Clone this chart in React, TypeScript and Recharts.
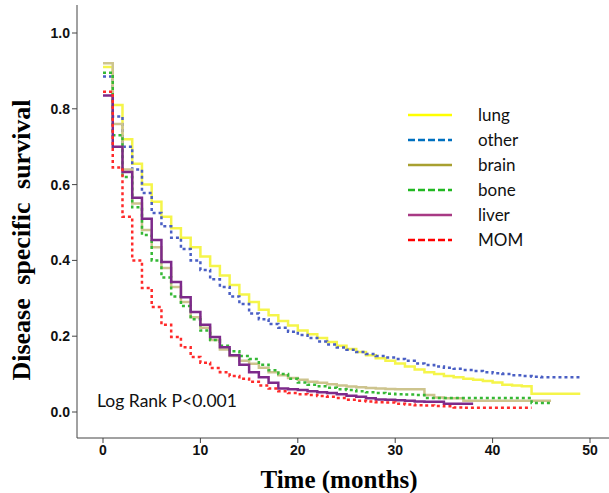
import React from 'react';
import { LineChart, Line, XAxis, YAxis } from 'recharts';

// ── Disease specific survival by metastatic site (Kaplan-Meier, monthly steps)

const MONTHS = [0, 1, 2, 3, 4, 5, 6, 7, 8, 9, 10, 11, 12, 13, 14, 15, 16, 17, 18, 19, 20, 21, 22, 23, 24, 25, 26, 27, 28, 29, 30, 31, 32, 33, 34, 35, 36, 37, 38, 39, 40, 41, 42, 43, 44, 45, 46, 47, 48, 49];

const LUNG = [0.91, 0.81, 0.72, 0.655, 0.60, 0.555, 0.515, 0.485, 0.46, 0.435, 0.41, 0.385, 0.36, 0.335, 0.31, 0.29, 0.27, 0.255, 0.24, 0.228,
  0.215, 0.205, 0.195, 0.185, 0.175, 0.166, 0.158, 0.15, 0.142, 0.135, 0.128, 0.12, 0.112, 0.105, 0.10, 0.095, 0.092, 0.088, 0.085, 0.082,
  0.078, 0.072, 0.07, 0.068, 0.048, 0.048, 0.048, 0.048, 0.048, 0.048];
const OTHER = [0.885, 0.78, 0.70, 0.64, 0.578, 0.525, 0.49, 0.46, 0.43, 0.40, 0.375, 0.35, 0.33, 0.305, 0.285, 0.26, 0.245, 0.232, 0.222, 0.212,
  0.203, 0.195, 0.186, 0.178, 0.17, 0.164, 0.158, 0.153, 0.148, 0.144, 0.14, 0.135, 0.128, 0.124, 0.12, 0.117, 0.114, 0.111, 0.108, 0.105,
  0.102, 0.10, 0.097, 0.095, 0.093, 0.092, 0.092, 0.092, 0.092, 0.092];
const BRAIN = [0.92, 0.76, 0.64, 0.55, 0.48, 0.435, 0.38, 0.33, 0.29, 0.25, 0.222, 0.19, 0.165, 0.148, 0.135, 0.127, 0.117, 0.105, 0.097, 0.09,
  0.085, 0.08, 0.077, 0.073, 0.07, 0.067, 0.065, 0.063, 0.062, 0.061, 0.06, 0.06, 0.06, 0.045, 0.038, 0.036, 0.036, 0.03, 0.03, 0.03,
  0.03, 0.03, 0.03, 0.03, 0.03, 0.03, 0.03];
const BONE = [0.895, 0.73, 0.62, 0.54, 0.467, 0.40, 0.355, 0.305, 0.28, 0.245, 0.215, 0.19, 0.175, 0.16, 0.148, 0.14, 0.125, 0.11, 0.10, 0.088,
  0.078, 0.072, 0.068, 0.064, 0.06, 0.058, 0.055, 0.052, 0.05, 0.048, 0.047, 0.046, 0.045, 0.037, 0.037, 0.037, 0.037, 0.037, 0.037, 0.037,
  0.037, 0.037, 0.037, 0.037, 0.024, 0.024, 0.024];
const LIVER = [0.835, 0.70, 0.633, 0.565, 0.51, 0.454, 0.396, 0.343, 0.303, 0.264, 0.23, 0.198, 0.171, 0.15, 0.125, 0.105, 0.092, 0.077, 0.062, 0.06,
  0.058, 0.055, 0.052, 0.05, 0.047, 0.043, 0.04, 0.036, 0.033, 0.032, 0.031, 0.03, 0.028, 0.027, 0.027, 0.022, 0.022, 0.022, 0.022];
const MOM = [0.845, 0.645, 0.515, 0.40, 0.327, 0.277, 0.23, 0.198, 0.171, 0.145, 0.13, 0.116, 0.105, 0.095, 0.088, 0.08, 0.07, 0.062, 0.055, 0.05,
  0.047, 0.045, 0.042, 0.04, 0.037, 0.032, 0.03, 0.028, 0.026, 0.025, 0.022, 0.02, 0.018, 0.017, 0.016, 0.015, 0.012, 0.011, 0.011, 0.011,
  0.011, 0.011, 0.011, 0.011, 0.011];

const X_TICKS = [0, 10, 20, 30, 40, 50];
const Y_TICKS = [0, 0.2, 0.4, 0.6, 0.8, 1.0];

const SERIES = [
  { key: 'lung', label: 'lung', data: LUNG, color: '#f5f54a', legend: '#ffff00', dash: undefined },
  { key: 'other', label: 'other', data: OTHER, color: '#4a5fc4', legend: '#0070c0', dash: '3 3' },
  { key: 'brain', label: 'brain', data: BRAIN, color: '#cdc48e', legend: '#a8a030', dash: undefined },
  { key: 'bone', label: 'bone', data: BONE, color: '#35b835', legend: '#22b822', dash: '3 3' },
  { key: 'liver', label: 'liver', data: LIVER, color: '#7d2a8a', legend: '#a83a84', dash: undefined },
  { key: 'mom', label: 'MOM', data: MOM, color: '#ff2a2a', legend: '#ff0000', dash: '3 3' },
];

const chartData = MONTHS.map((t, i) => {
  const row: any = { t };
  SERIES.forEach(s => { row[s.key] = i < s.data.length ? s.data[i] : null; });
  return row;
});

const tickStyle = { fontSize: 14, fontWeight: 700, fill: '#111', fontFamily: '"Liberation Sans", Arial, sans-serif' };

export default function App() {
  return (
    <div style={{ position: 'absolute', left: 0, top: 0, width: 609, height: 493, background: '#fff' }}>
      <LineChart width={609} height={493} data={chartData} margin={{ top: 5, right: 0, bottom: 0, left: 0 }}>
        <XAxis
          type="number" dataKey="t" domain={[-2.67, 51.95]} ticks={X_TICKS} allowDataOverflow
          height={55} tickSize={5} tick={tickStyle}
          axisLine={{ stroke: '#444' }} tickLine={{ stroke: '#444' }}
        />
        <YAxis
          type="number" domain={[-0.0686, 1.0739]} ticks={Y_TICKS} allowDataOverflow
          width={77} tickSize={5} tick={tickStyle} tickFormatter={(v: number) => v.toFixed(1)}
          axisLine={{ stroke: '#444' }} tickLine={{ stroke: '#444' }}
        />
        {SERIES.map(s => (
          <Line
            key={s.key} dataKey={s.key} type="stepAfter" stroke={s.color} strokeWidth={2.5}
            strokeDasharray={s.dash} dot={false} activeDot={false} isAnimationActive={false}
          />
        ))}
      </LineChart>

      {/* axis titles */}
      <div style={{
        position: 'absolute', left: 22, top: 240, transform: 'translate(-50%, -50%) rotate(-90deg)',
        whiteSpace: 'nowrap', fontFamily: '"Liberation Serif", "Times New Roman", serif', fontWeight: 700,
        fontSize: 26, wordSpacing: 7, color: '#000',
      }}>Disease specific survival</div>
      <div style={{
        position: 'absolute', left: 339, top: 480, transform: 'translate(-50%, -50%)',
        whiteSpace: 'nowrap', fontFamily: '"Liberation Serif", "Times New Roman", serif', fontWeight: 700,
        fontSize: 25, color: '#000',
      }}>Time (months)</div>

      <div style={{
        position: 'absolute', left: 97, top: 390, fontFamily: 'Lato, "Open Sans", sans-serif',
        fontSize: 17.5, color: '#111', whiteSpace: 'nowrap',
      }}>Log Rank P&lt;0.001</div>

      {/* legend */}
      <div style={{ position: 'absolute', left: 408, top: 102 }}>
        {SERIES.map((s, i) => (
          <div key={s.key} style={{ display: 'flex', alignItems: 'center', height: 25 }}>
            <svg width={44} height={6} style={{ display: 'block' }}>
              <line x1={0} y1={3} x2={44} y2={3} stroke={s.legend} strokeWidth={2.5} strokeDasharray={s.dash ? '7 3' : undefined} />
            </svg>
            <span style={{ marginLeft: 26, fontFamily: 'Lato, "Open Sans", sans-serif', fontSize: 17, color: '#111' }}>{s.label}</span>
          </div>
        ))}
      </div>
    </div>
  );
}
